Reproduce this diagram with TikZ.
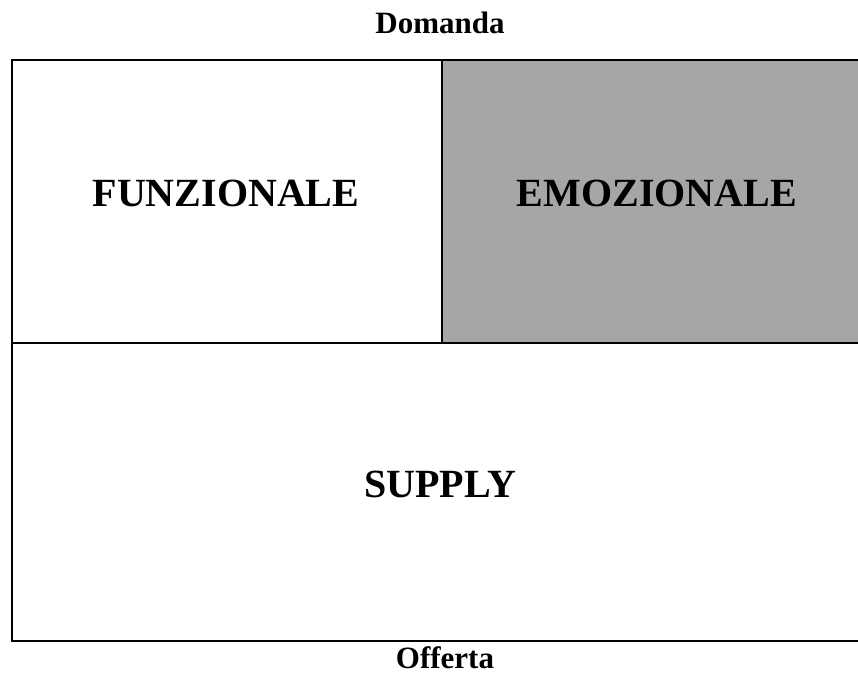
\documentclass[tikz,border=0pt]{standalone}
\usepackage{fontspec}
\setmainfont{Liberation Serif}
\definecolor{cellgray}{HTML}{A6A6A6}
\begin{document}
\begin{tikzpicture}[x=1pt,y=-1pt,
  frame/.style={line width=2.5pt,draw=black},
  biglabel/.style={font=\fontsize{40}{46}\selectfont\bfseries,inner sep=0pt},
  smalllabel/.style={font=\fontsize{31}{37}\selectfont\bfseries,inner sep=0pt}]
\useasboundingbox (0,0) rectangle (858,677);
\clip (0,0) rectangle (858,677);
\fill[cellgray] (442,60) rectangle (870,343);
\draw[frame] (12,60) rectangle (880,641);
\draw[frame] (12,343) -- (880,343);
\draw[frame] (442,60) -- (442,343);
\node[smalllabel] (dom) at (440,23) {Domanda};
\node[biglabel] (fun) at (226,193) {FUNZIONALE};
\node[biglabel] (emo) at (657,193) {EMOZIONALE};
\node[biglabel] (sup) at (440,484) {SUPPLY};
\node[smalllabel] (off) at (445,658) {Offerta};
\end{tikzpicture}
\end{document}
